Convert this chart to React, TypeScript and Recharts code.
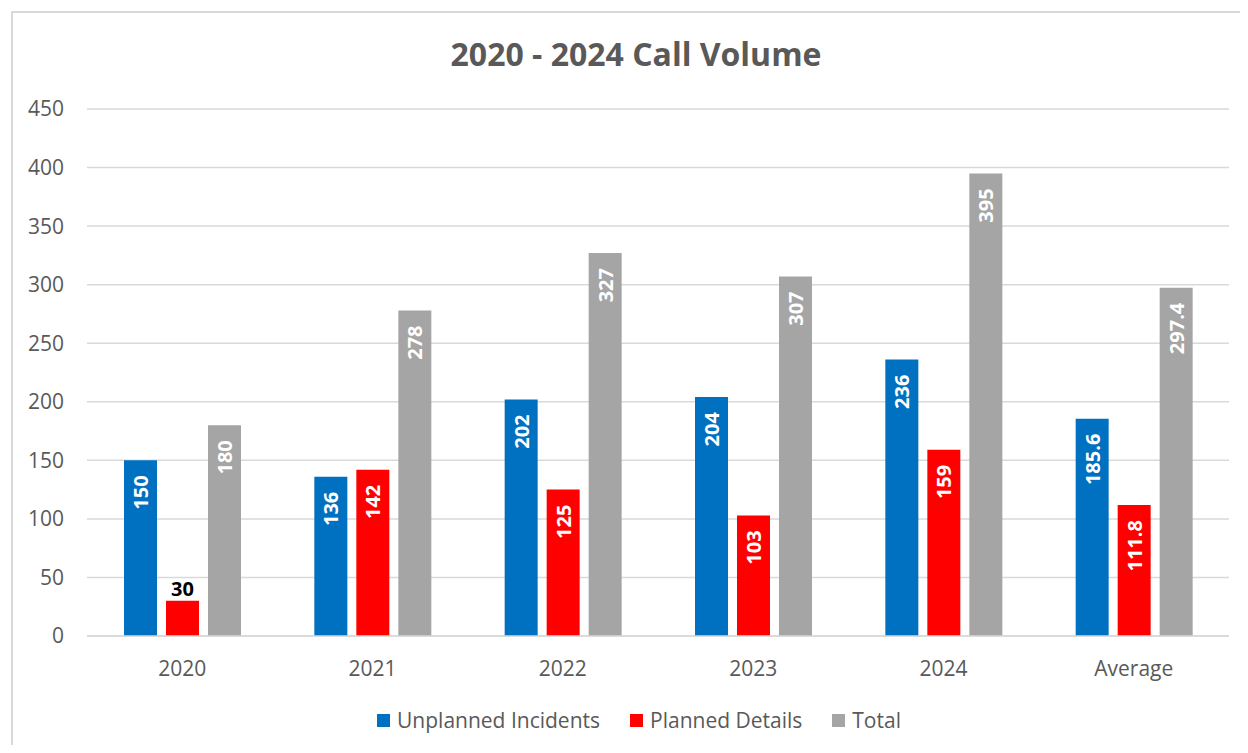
import { Bar, BarChart, CartesianGrid, LabelList, Legend, XAxis, YAxis } from "recharts"

// chart values
const categories = ["2020", "2021", "2022", "2023", "2024", "Average"]
const unplanned = [150, 136, 202, 204, 236, 185.6]
const planned = [30, 142, 125, 103, 159, 111.8]
const totals = [180, 278, 327, 307, 395, 297.4]
const yTicks = [0, 50, 100, 150, 200, 250, 300, 350, 400, 450]

const series = [
	{ key: "unplanned", name: "Unplanned Incidents", color: "#0070C0" },
	{ key: "planned", name: "Planned Details", color: "#FF0000" },
	{ key: "total", name: "Total", color: "#A5A5A5" },
]

const data = categories.map((name, i) => ({
	name,
	unplanned: unplanned[i],
	planned: planned[i],
	total: totals[i],
}))

const FONT = '"Open Sans", sans-serif'
const TEXT = "#595959"

// value inside the top of the bar, turned up; above the bar when it does not fit
const BarValue = (props: any) => {
	const { x, y, width, height, value } = props
	const text = String(value)
	const cx = x + width / 2
	const need = text.length * 12 + 20

	if (height < need) {
		return (
			<text x={cx} y={y - 5} textAnchor="middle" fill="#000000" fontSize={20} fontWeight={700} fontFamily={FONT}>
				{text}
			</text>
		)
	}

	const ty = y + 15
	return (
		<text
			x={cx}
			y={ty}
			transform={`rotate(-90 ${cx} ${ty})`}
			textAnchor="end"
			dominantBaseline="central"
			fill="#FFFFFF"
			fontSize={20}
			fontWeight={700}
			fontFamily={FONT}
		>
			{text}
		</text>
	)
}

const LegendRow = () => (
	<div style={{ display: "flex", justifyContent: "center", alignItems: "center", gap: 30, height: 30, paddingLeft: 36 }}>
		{series.map(s => (
			<div key={s.key} style={{ display: "flex", alignItems: "center", gap: 7 }}>
				<span style={{ width: 13, height: 13, background: s.color, display: "inline-block" }} />
				<span style={{ fontSize: 21, color: TEXT, fontFamily: FONT }}>{s.name}</span>
			</div>
		))}
	</div>
)

export default function App() {
	return (
		<div
			style={{
				position: "relative",
				marginLeft: 3,
				marginTop: 3,
				width: 1235,
				height: 734,
				borderLeft: "2px solid #D9D9D9",
				borderTop: "2px solid #D9D9D9",
				boxSizing: "border-box",
				overflow: "hidden",
				fontFamily: FONT,
			}}
		>
			<div
				style={{
					position: "absolute",
					top: 19,
					left: 0,
					width: 1246,
					textAlign: "center",
					fontSize: 32,
					fontWeight: 700,
					color: TEXT,
				}}
			>
				2020 - 2024 Call Volume
			</div>

			<BarChart
				width={1233}
				height={732}
				data={data}
				margin={{ top: 96, right: 17, bottom: 10, left: 0 }}
				barSize={33}
				barGap={9}
			>
				<CartesianGrid vertical={false} stroke="#D9D9D9" strokeWidth={1.5} />

				<XAxis
					dataKey="name"
					height={69}
					tickLine={false}
					axisLine={{ stroke: "#D9D9D9", strokeWidth: 1.5 }}
					tick={{ fill: TEXT, fontSize: 21, fontFamily: FONT }}
					tickMargin={19}
				/>

				<YAxis
					width={74}
					domain={[0, 450]}
					ticks={yTicks}
					interval={0}
					tickLine={false}
					axisLine={false}
					tick={{ fill: TEXT, fontSize: 21, fontFamily: FONT }}
					tickMargin={17}
				/>

				<Legend verticalAlign="bottom" height={30} content={() => <LegendRow />} />

				{series.map(s => (
					<Bar key={s.key} dataKey={s.key} name={s.name} fill={s.color} isAnimationActive={false}>
						<LabelList dataKey={s.key} content={BarValue} />
					</Bar>
				))}
			</BarChart>
		</div>
	)
}
